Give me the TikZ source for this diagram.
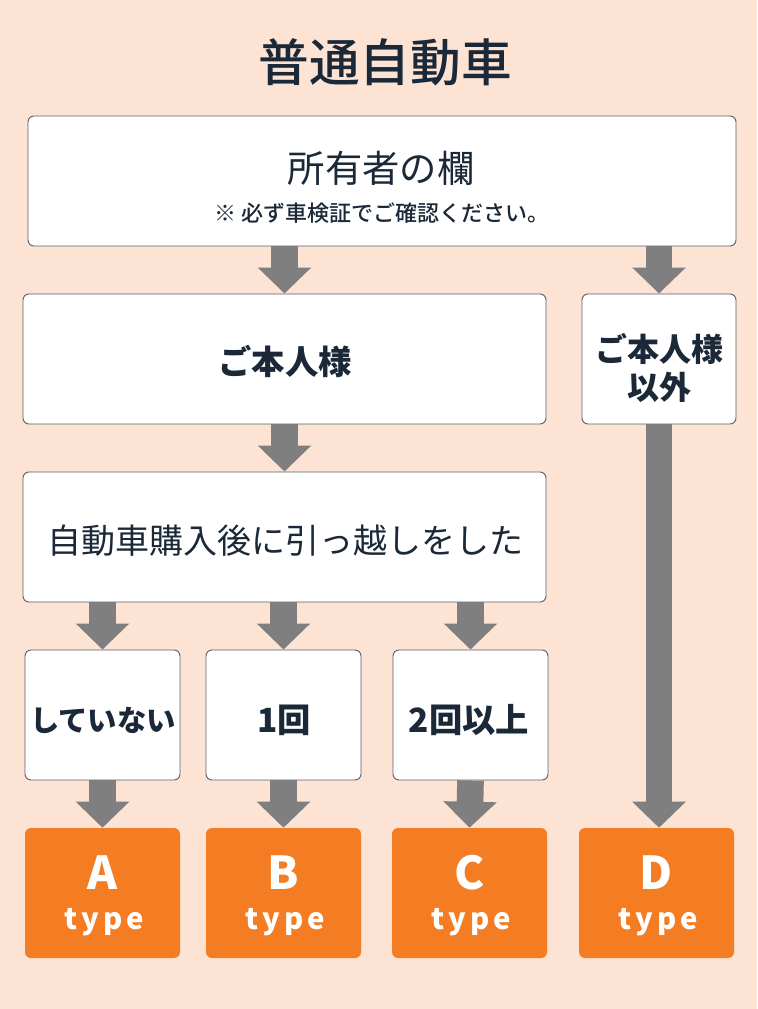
\documentclass[tikz,border=0pt]{standalone}
\usepackage{fontspec}
\setmainfont{Noto Sans CJK JP}
\newfontfamily\medfont{Noto Sans CJK JP Medium}
\usetikzlibrary{arrows.meta,calc,backgrounds}
\definecolor{bg}{HTML}{FCE3D4}
\definecolor{ink}{HTML}{1B2838}
\definecolor{flowgray}{HTML}{7F7F7F}
\definecolor{boxline}{HTML}{5A5F66}
\definecolor{res}{HTML}{F47C22}
\tikzset{
  wbox/.style={draw=boxline, line width=0.7pt, fill=white, rounded corners=4.5pt, minimum height=97.5pt, inner sep=0pt, text=ink},
  rbox/.style={fill=res, rounded corners=4.5pt, minimum width=116.25pt, minimum height=97.5pt, inner sep=0pt},
  flow/.style={draw=flowgray, line width=20pt, -{Triangle[width=39pt,length=19.5pt]}},
  txt/.style={text=ink, inner sep=0pt},
  bigletter/.style={text=white, font=\fontsize{34}{34}\selectfont\bfseries},
  typetxt/.style={text=white, font=\fontsize{22}{22}\selectfont\bfseries\addfontfeature{LetterSpace=14}},
}
\begin{document}
\begin{tikzpicture}[x=0.75pt,y=-0.75pt]
\useasboundingbox (0,0) rectangle (757,1009);

\node[txt, font=\fontsize{38}{38}\selectfont\medfont] (title) at (385,62) {普通自動車};

\node[wbox, minimum width=531pt] (top) at (382,181) {};
\node[wbox, minimum width=392.25pt] (self) at (284.5,359) {};
\node[wbox, minimum width=115.5pt] (other) at (659,359) {};
\node[wbox, minimum width=392.25pt] (move) at (284.5,537) {};
\node[wbox, minimum width=116.25pt] (c1) at (102.5,715) {};
\node[wbox, minimum width=116.25pt] (c2) at (283.5,715) {};
\node[wbox, minimum width=116.25pt] (c3) at (470.5,715) {};
\node[rbox] (rA) at (102.5,893) {};
\node[rbox] (rB) at (283.5,893) {};
\node[rbox] (rC) at (469.5,893) {};
\node[rbox] (rD) at (656.5,893) {};

\node[txt, font=\fontsize{28}{28}\selectfont] (t1) at (381,168) {所有者の欄};
\node[txt, font=\fontsize{16.5}{16.5}\selectfont\medfont] (t2) at (382,213) {※ 必ず車検証でご確認ください。};
\node[txt, font=\fontsize{25}{25}\selectfont\bfseries] (t3) at (285,361) {ご本人様};
\node[txt, font=\fontsize{24}{28.5}\selectfont\bfseries, align=center] (t4) at (659,368) {ご本人様\\以外};
\node[txt, font=\fontsize{25.5}{25.5}\selectfont] (t5) at (285,541) {自動車購入後に引っ越しをした};
\node[txt, font=\fontsize{22}{22}\selectfont\bfseries] (t6) at (103,720) {していない};
\node[txt, font=\fontsize{25}{25}\selectfont\bfseries] (t7) at (284,720) {1回};
\node[txt, font=\fontsize{25}{25}\selectfont\bfseries] (t8) at (469,720) {2回以上};

\foreach \r/\L in {rA/A,rB/B,rC/C,rD/D}{
  \node[bigletter] (\r L) at ($(\r.center)+(0,-20)$) {\L};
  \node[typetxt] (\r T) at ($(\r.center)+(2,29)$) {type};
}

\begin{scope}[on background layer]
\fill[bg] (0,0) rectangle (757,1009);
\draw[flow] (top.south -| self.north) -- (self.north);
\draw[flow] (top.south -| other.north) -- (other.north);
\draw[flow] (self.south) -- (move.north);
\draw[flow] (move.south -| c1.north) -- (c1.north);
\draw[flow] (move.south -| c2.north) -- (c2.north);
\draw[flow] (move.south -| c3.north) -- (c3.north);
\draw[flow] (c1.south) -- (rA.north);
\draw[flow] (c2.south) -- (rB.north);
\draw[flow] (c3.south) -- (rC.north);
\draw[flow] (other.south) -- (other.south |- rD.north);
\end{scope}
\end{tikzpicture}
\end{document}
